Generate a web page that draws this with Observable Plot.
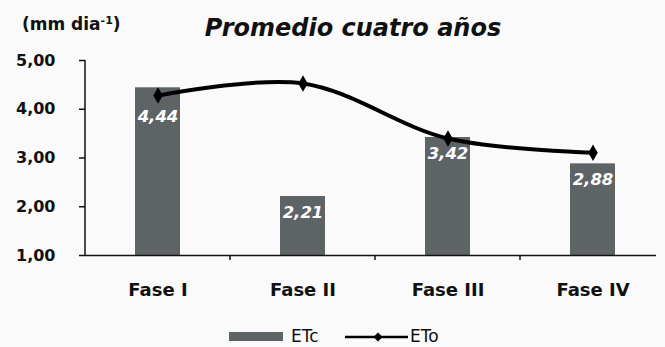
<!DOCTYPE html>
<html>
<head>
<meta charset="utf-8">
<script src="https://cdn.jsdelivr.net/npm/d3@7"></script>
<script src="https://cdn.jsdelivr.net/npm/@observablehq/plot@0.6"></script>
<style>
  body { margin: 0; background: #fafafa; font-family: "DejaVu Sans", sans-serif; color: #111; }
  #wrap { position: relative; width: 665px; height: 347px; overflow: hidden; }
  .head { position: relative; height: 45px; }
  .unit { position: absolute; left: 22px; top: 16px; font-weight: bold; font-size: 17px; line-height: 17px; white-space: nowrap; }
  .unit sup { font-size: 11px; line-height: 0; vertical-align: 6px; }
  .title { position: absolute; left: 0; width: 706px; top: 16px; text-align: center; font-weight: bold; font-style: italic; font-size: 24px; line-height: 24px; white-space: nowrap; }
  #plot { height: 270px; }
  #plot svg { display: block; }
  .legend { position: relative; height: 32px; font-size: 17px; }
  .legend .sw { position: absolute; left: 229px; top: 17px; width: 54px; height: 9px; background: #5e6466; }
  .legend .lab { position: absolute; top: 13px; line-height: 17px; }
  .legend svg { position: absolute; left: 345px; top: 14px; }
</style>
</head>
<body>
<div id="wrap">
  <div class="head">
    <div class="unit">(mm dia<sup>-1</sup>)</div>
    <div class="title">Promedio cuatro años</div>
  </div>
  <div id="plot"></div>
  <div class="legend">
    <div class="sw"></div>
    <div class="lab" style="left:291px">ETc</div>
    <svg width="64" height="16" viewBox="0 0 64 16">
      <line x1="0" y1="8" x2="63" y2="8" stroke="#000" stroke-width="2.5"/>
      <path d="M33,3.5 L37.5,8 L33,12.5 L28.5,8 Z" fill="#000"/>
    </svg>
    <div class="lab" style="left:410px">ETo</div>
  </div>
</div>
<script>
// Crop phases and the four-year mean evapotranspiration (mm/day)
const phases = ["Fase I", "Fase II", "Fase III", "Fase IV"];
const etc = [4.44, 2.21, 3.42, 2.88];   // crop evapotranspiration (bars)
const eto = [4.28, 4.53, 3.40, 3.11];   // reference evapotranspiration (line)
const yTicks = [1, 2, 3, 4, 5];

const rows = phases.map((phase, i) => ({phase, etc: etc[i], eto: eto[i]}));
const fmt = d => d.toFixed(2).replace(".", ",");

// White value labels inside the top of each bar; the first sits a little lower to clear the line
const labelStyle = {x: "phase", y: "etc", text: d => fmt(d.etc), fill: "white",
  fontSize: 16.5, fontWeight: "bold", fontStyle: "italic"};

const chart = Plot.plot({
  width: 665,
  height: 270,
  marginTop: 15,
  marginBottom: 60,
  marginLeft: 85,
  marginRight: 0,
  style: {fontFamily: "DejaVu Sans", background: "transparent", color: "#111"},
  x: {domain: phases, padding: 0},
  y: {domain: [1, 5]},
  marks: [
    Plot.barY(rows, {x: "phase", y1: 1, y2: "etc", fill: "#5e6466", insetLeft: 50, insetRight: 50}),
    Plot.text(rows.slice(0, 1), {...labelStyle, dy: 29}),
    Plot.text(rows.slice(1), {...labelStyle, dy: 16}),
    Plot.line(rows, {x: "phase", y: "eto", curve: "catmull-rom", stroke: "#000", strokeWidth: 4}),
    Plot.dot(rows, {x: "phase", y: "eto", symbol: "diamond", r: 5, fill: "#000"}),
    Plot.ruleY([1], {stroke: "#111", strokeWidth: 1.5, insetRight: 9}),
    Plot.axisY({ticks: yTicks, tickFormat: fmt, tickSize: 6, tickPadding: 24, fontSize: 16,
      fontWeight: "bold", strokeWidth: 1.5, label: null}),
    Plot.axisX({tickSize: 0, tickPadding: 28, fontSize: 18, fontWeight: "bold", label: null})
  ]
});

// Vertical axis line and category-boundary ticks, placed with the chart's own scales
const xs = chart.scale("x"), ys = chart.scale("y");
const g = d3.select(chart).append("g").attr("stroke", "#111").attr("stroke-width", 1.5);
g.append("line")
  .attr("x1", xs.range[0]).attr("x2", xs.range[0])
  .attr("y1", ys.apply(5)).attr("y2", ys.apply(1));
phases.slice(1).forEach(p => {
  const x = xs.apply(p);
  g.append("line").attr("x1", x).attr("x2", x).attr("y1", ys.apply(1)).attr("y2", ys.apply(1) + 5);
});

document.getElementById("plot").append(chart);
</script>
</body>
</html>
